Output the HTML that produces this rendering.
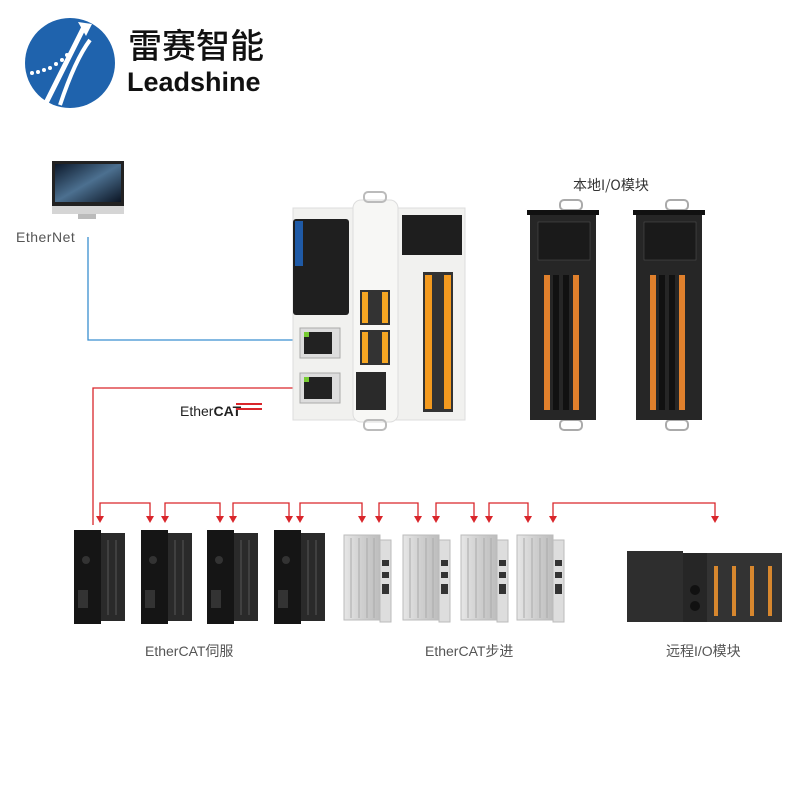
<!DOCTYPE html>
<html><head><meta charset="utf-8"><style>
html,body{margin:0;padding:0;background:#fff;width:800px;height:800px;overflow:hidden}
svg{display:block}
text{font-family:"Liberation Sans","Noto Sans CJK SC",sans-serif}
</style></head><body>
<svg width="800" height="800" viewBox="0 0 800 800" xmlns="http://www.w3.org/2000/svg">
<defs>
<linearGradient id="scr" x1="0" y1="0" x2="1" y2="1"><stop offset="0" stop-color="#0d1a2c"/><stop offset=".5" stop-color="#4c7090"/><stop offset="1" stop-color="#0b1524"/></linearGradient>
<linearGradient id="alu" x1="0" x2="1"><stop offset="0" stop-color="#e6e6e6"/><stop offset=".5" stop-color="#cfcfcf"/><stop offset="1" stop-color="#bdbdbd"/></linearGradient>
<path id="tri" d="M-4,-7 L4,-7 L0,0z" fill="#d9262b"/>
</defs>

<!-- Logo -->
<circle cx="70" cy="63" r="45" fill="#1f63ad"/>
<path d="M45,105 L85,25" stroke="#fff" stroke-width="5" fill="none"/>
<path d="M60,105 Q75,60 90,40" stroke="#fff" stroke-width="4" fill="none"/>
<path d="M78,22 L92,24 L86,36 z" fill="#fff"/>
<g fill="#fff"><circle cx="32" cy="73" r="2"/><circle cx="38" cy="72" r="2"/><circle cx="44" cy="70" r="2"/><circle cx="50" cy="68" r="2"/><circle cx="56" cy="64" r="2"/><circle cx="62" cy="60" r="2"/><circle cx="67" cy="55" r="2"/></g>
<text x="128" y="58" font-size="34" fill="#111" style="font-family:'Noto Sans CJK SC',sans-serif;font-weight:500">雷赛智能</text>
<text x="127" y="91" font-size="27" fill="#111" font-weight="bold">Leadshine</text>

<!-- Monitor -->
<rect x="52" y="161" width="72" height="46" fill="#222"/>
<rect x="55" y="164" width="66" height="38" fill="url(#scr)"/>
<rect x="52" y="206" width="72" height="8" fill="#d5d5d5"/>
<rect x="78" y="214" width="18" height="5" fill="#bbb"/>
<text x="16" y="242" font-size="14" fill="#555" letter-spacing="0.5">EtherNet</text>

<!-- wires -->
<polyline points="88,237 88,340 308,340" fill="none" stroke="#3a8fd0" stroke-width="1.3"/>
<polyline points="93,525 93,388 308,388" fill="none" stroke="#d9262b" stroke-width="1.3"/>
<text x="180" y="416" font-size="14" fill="#222">Ether<tspan font-weight="bold">CAT</tspan></text>
<path d="M236,404 L262,404 M236,409 L262,409" stroke="#d9262b" stroke-width="2"/>

<!-- Controller -->
<rect x="293" y="208" width="172" height="212" fill="#f1f1ef" stroke="#ddd"/>
<rect x="353" y="200" width="45" height="222" rx="8" fill="#f7f7f5" stroke="#ddd"/>
<rect x="364" y="192" width="22" height="10" rx="4" fill="none" stroke="#bbb" stroke-width="2"/>
<rect x="364" y="420" width="22" height="10" rx="4" fill="none" stroke="#bbb" stroke-width="2"/>
<rect x="293" y="219" width="56" height="96" rx="3" fill="#1f1f1f"/>
<rect x="295" y="221" width="8" height="45" fill="#1f5aa6"/>
<rect x="402" y="215" width="60" height="40" fill="#1e1e1e"/>
<rect x="423" y="272" width="30" height="140" fill="#333"/>
<g fill="#f39a1f"><rect x="425" y="275" width="7" height="134"/><rect x="444" y="275" width="7" height="134"/></g>
<rect x="360" y="290" width="30" height="35" fill="#333"/>
<rect x="360" y="330" width="30" height="35" fill="#333"/>
<g fill="#f5a623"><rect x="362" y="292" width="6" height="31"/><rect x="382" y="292" width="6" height="31"/><rect x="362" y="332" width="6" height="31"/><rect x="382" y="332" width="6" height="31"/></g>
<rect x="356" y="372" width="30" height="38" fill="#2a2a2a"/>
<rect x="300" y="328" width="40" height="30" fill="#ddd" stroke="#aaa"/>
<rect x="304" y="332" width="28" height="22" fill="#222"/>
<rect x="300" y="373" width="40" height="30" fill="#ddd" stroke="#aaa"/>
<rect x="304" y="377" width="28" height="22" fill="#222"/>
<rect x="304" y="332" width="5" height="5" fill="#7c3"/>
<rect x="304" y="377" width="5" height="5" fill="#7c3"/>

<!-- Local IO -->
<text x="573" y="190" font-size="14" fill="#333" style="font-family:'Noto Sans CJK SC',sans-serif">本地I/O模块</text>
<g id="io">
<rect x="560" y="200" width="22" height="10" rx="4" fill="none" stroke="#aaa" stroke-width="2"/>
<rect x="560" y="420" width="22" height="10" rx="4" fill="none" stroke="#aaa" stroke-width="2"/>
<rect x="530" y="210" width="66" height="210" fill="#262626"/>
<rect x="527" y="210" width="72" height="5" fill="#111"/>
<rect x="538" y="222" width="52" height="38" fill="#1a1a1a" stroke="#555" stroke-width=".5"/>
<g fill="#e0802c"><rect x="544" y="275" width="6" height="135"/><rect x="573" y="275" width="6" height="135"/></g>
<g fill="#111"><rect x="553" y="275" width="6" height="135"/><rect x="563" y="275" width="6" height="135"/></g>
</g>
<use href="#io" x="106"/>

<!-- EtherCAT chain -->
<g fill="none" stroke="#d9262b" stroke-width="1.3">
<polyline points="100,516 100,503 150,503 150,516"/>
<polyline points="165,516 165,503 220,503 220,516"/>
<polyline points="233,516 233,503 289,503 289,516"/>
<polyline points="300,516 300,503 362,503 362,516"/>
<polyline points="379,516 379,503 418,503 418,516"/>
<polyline points="436,516 436,503 474,503 474,516"/>
<polyline points="489,516 489,503 528,503 528,516"/>
<polyline points="553,516 553,503 715,503 715,516"/>
</g>
<use href="#tri" x="100" y="523"/><use href="#tri" x="150" y="523"/>
<use href="#tri" x="165" y="523"/><use href="#tri" x="220" y="523"/>
<use href="#tri" x="233" y="523"/><use href="#tri" x="289" y="523"/>
<use href="#tri" x="300" y="523"/><use href="#tri" x="362" y="523"/>
<use href="#tri" x="379" y="523"/><use href="#tri" x="418" y="523"/>
<use href="#tri" x="436" y="523"/><use href="#tri" x="474" y="523"/>
<use href="#tri" x="489" y="523"/><use href="#tri" x="528" y="523"/>
<use href="#tri" x="553" y="523"/><use href="#tri" x="715" y="523"/>

<!-- servos -->
<g id="sv">
<rect x="100" y="533" width="25" height="88" fill="#2a2a2a"/>
<g stroke="#555" stroke-width="1"><line x1="108" y1="540" x2="108" y2="615"/><line x1="116" y1="540" x2="116" y2="615"/></g>
<rect x="74" y="530" width="27" height="94" fill="#151515"/>
<circle cx="86" cy="560" r="4" fill="#333"/>
<rect x="78" y="590" width="10" height="18" fill="#333"/>
</g>
<use href="#sv" x="67"/><use href="#sv" x="133"/><use href="#sv" x="200"/>

<!-- steppers -->
<g id="st">
<rect x="344" y="535" width="36" height="85" fill="url(#alu)" stroke="#bbb"/>
<g stroke="#aaa" stroke-width="1"><line x1="351" y1="538" x2="351" y2="618"/><line x1="359" y1="538" x2="359" y2="618"/><line x1="367" y1="538" x2="367" y2="618"/><line x1="374" y1="538" x2="374" y2="618"/></g>
<rect x="380" y="540" width="11" height="82" fill="#ddd" stroke="#bbb"/>
<rect x="382" y="560" width="7" height="6" fill="#333"/><rect x="382" y="572" width="7" height="6" fill="#333"/><rect x="382" y="584" width="7" height="10" fill="#333"/>
</g>
<use href="#st" x="59"/><use href="#st" x="117"/><use href="#st" x="173"/>

<!-- remote IO -->
<rect x="627" y="551" width="56" height="71" fill="#2e2e2e"/>
<rect x="683" y="553" width="24" height="69" fill="#262626"/>
<circle cx="695" cy="590" r="5" fill="#111"/><circle cx="695" cy="606" r="5" fill="#111"/>
<rect x="707" y="553" width="75" height="69" fill="#333"/>
<g fill="#d7872e"><rect x="714" y="566" width="4" height="50"/><rect x="732" y="566" width="4" height="50"/><rect x="750" y="566" width="4" height="50"/><rect x="768" y="566" width="4" height="50"/></g>

<text x="145" y="656" font-size="14" fill="#555">EtherCAT伺服</text>
<text x="425" y="656" font-size="14" fill="#555">EtherCAT步进</text>
<text x="666" y="656" font-size="14" fill="#555">远程I/O模块</text>
</svg>
</body></html>
